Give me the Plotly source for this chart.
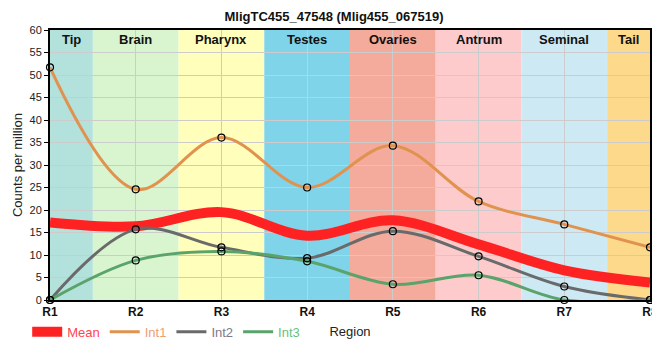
import plotly.graph_objects as go

regions = ["R1", "R2", "R3", "R4", "R5", "R6", "R7", "R8"]
int1 = [51.7, 24.6, 36.1, 25.0, 34.3, 21.9, 16.8, 11.7]
int2 = [0.0, 15.7, 11.7, 9.3, 15.3, 9.7, 3.0, 0.0]
int3 = [0.0, 8.8, 10.8, 8.6, 3.5, 5.5, 0.0, 0.0]
mean = [round((a + b + c) / 3, 2) for a, b, c in zip(int1, int2, int3)]

band_names = ["Tip", "Brain", "Pharynx", "Testes", "Ovaries", "Antrum", "Seminal", "Tail"]
band_colors = ["#b3e2dd", "#d9f5d0", "#ffffbb", "#7fd4ea", "#f4ab9c", "#fdcbcb", "#cdeaf4", "#fdd98c"]

x = list(range(1, len(regions) + 1))

fig = go.Figure()

fig.add_trace(go.Scatter(
    x=x, y=mean, mode="lines", name="<span style='color:#ff4455'>Mean</span>",
    line=dict(color="#ff2222", width=10, shape="spline", smoothing=1.0),
    hoverinfo="skip"))
series = [
    ("Int1", int1, "#e0924e", "#eea070"),
    ("Int2", int2, "#6a6a6a", "#7a7a8a"),
    ("Int3", int3, "#5aa46c", "#6abf80"),
]
for name, ys, col, tcol in series:
    fig.add_trace(go.Scatter(
        x=x, y=ys, mode="lines",
        name=f"<span style='color:{tcol}'>{name}</span>",
        line=dict(color=col, width=3, shape="spline", smoothing=1.0)))
for name, ys, col, tcol in series:
    fig.add_trace(go.Scatter(
        x=x, y=ys, mode="markers", showlegend=False,
        marker=dict(symbol="circle-open", size=7, color="black", line=dict(width=1.2)),
        cliponaxis=False))

shapes = []
annotations = []
for i, (bn, bc) in enumerate(zip(band_names, band_colors)):
    x0 = max(1, i + 0.5)
    x1 = min(8, i + 1.5)
    shapes.append(dict(type="rect", xref="x", yref="paper", x0=x0, x1=x1, y0=0, y1=1,
                       fillcolor=bc, line=dict(width=0), layer="below"))
    annotations.append(dict(x=(x0 + x1) / 2, y=1.0, xref="x", yref="paper",
                            text=f"<b>{bn}</b>", showarrow=False, yanchor="top",
                            font=dict(size=13, color="#111")))

# page body has an 8px margin, so the figure is sized and offset to compensate
fig.update_layout(
    width=652, height=352,
    margin=dict(l=42, r=10, t=22, b=60, autoexpand=False),
    paper_bgcolor="white", plot_bgcolor="white",
    font=dict(family="Liberation Sans, Arial, sans-serif", size=12, color="#222"),
    title=dict(text="<b>MligTC455_47548 (Mlig455_067519)</b>", x=0.5, xanchor="center",
               xref="container", y=0.99, yanchor="top", font=dict(size=13, color="#111")),
    shapes=shapes, annotations=annotations,
    showlegend=True,
    legend=dict(orientation="h", x=-0.038, xanchor="left", y=-0.062, yanchor="top",
                font=dict(size=13), bgcolor="rgba(0,0,0,0)", itemwidth=30,
                tracegroupgap=0),
    xaxis=dict(range=[1, 8], tickvals=x, ticktext=[f"<b>{r}</b>" for r in regions],
               showgrid=True, gridcolor="#cccccc", gridwidth=1,
               showline=True, linecolor="black", linewidth=2, mirror=True,
               ticks="", tickfont=dict(size=12, color="#111"),
               zeroline=False, automargin=False,
               title=dict(text="Region", standoff=8, font=dict(size=13, color="#222"))),
    yaxis=dict(range=[0, 60], dtick=5, showgrid=True, gridcolor="#cccccc", gridwidth=1,
               showline=True, linecolor="black", linewidth=2, mirror=True,
               ticks="outside", ticklen=4, tickcolor="black",
               tickfont=dict(size=11, color="#222"), zeroline=False, automargin=False,
               title=dict(text="Counts per million", standoff=4, font=dict(size=13, color="#222"))),
)

fig.write_html("out.html")
